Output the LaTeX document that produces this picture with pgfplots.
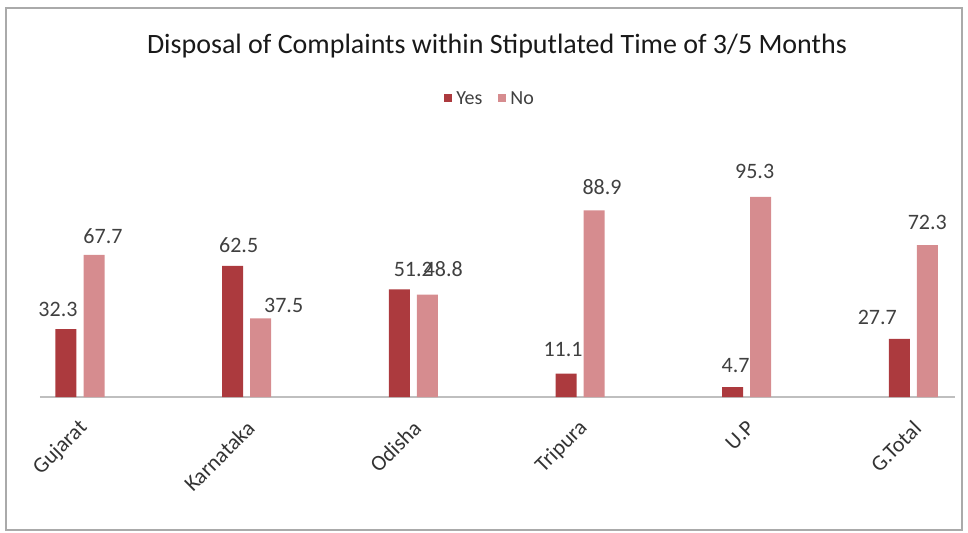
\documentclass[border=0pt]{standalone}
\usepackage{fontspec}
\setmainfont{Carlito}
\usepackage{pgfplots}
\usepackage{pgfplotstable}
\pgfplotsset{compat=1.18}
\definecolor{yescol}{RGB}{172,58,62}
\definecolor{nocol}{RGB}{214,140,143}
\definecolor{txt}{RGB}{64,64,64}
\definecolor{frame}{RGB}{170,170,170}
\pgfplotstableread{
x y dx dy
0 32.3 -4 10
1 62.5 3 10.5
2 51.2 7 10
3 11.1 -1.5 12
4 4.7 1.5 11
5 27.7 -11 10.5
}\yesdata
\pgfplotstableread{
x y dx dy
0 67.7 4.5 9.5
1 37.5 11.5 6.5
2 48.8 8 12.5
3 88.9 4 11.5
4 95.3 -3 12.5
5 72.3 0 11.5
}\nodata
\begin{document}
\begin{tikzpicture}
\path (0,0) rectangle (484pt,266pt);
\draw[frame, line width=1pt] (3pt,1pt) rectangle (481pt,262pt);
\node[font=\fontsize{14}{16}\selectfont, text=black!90] at (248.5pt,243pt) {Disposal of Complaints within Stiputlated Time of 3/5 Months};
\begin{axis}[
  at={(20pt,67.5pt)}, anchor=south west,
  scale only axis, width=457.5pt, height=115.5pt,
  ymin=0, ymax=110, xmin=-0.24, xmax=5.25,
  axis y line=none, axis x line*=bottom,
  x axis line style={draw=black!25, line width=0.8pt, -},
  xtick={0,1,2,3,4,5},
  xticklabels={Gujarat,Karnataka,Odisha,Tripura,U.P,G.Total},
  major tick length=0pt,
  xticklabel style={rotate=45, anchor=east, inner sep=0pt, font=\fontsize{11}{13}\selectfont, text=black!80, xshift=-8.2pt, yshift=-11.2pt},
  ybar=3.5pt, bar width=10.5pt,
  /pgf/number format/assume math mode=true,
  nodes near coords={\pgfmathprintnumber[fixed,precision=1,fixed zerofill]{\pgfplotspointmeta}},
  visualization depends on={\thisrow{dx} \as \dx},
  visualization depends on={\thisrow{dy} \as \dy},
  nodes near coords style={font=\fontsize{11}{13}\selectfont, text=txt, anchor=center, inner sep=0pt, xshift={\dx*1pt}, yshift={\dy*1pt}},
  legend style={at={(0.493,1.286)}, anchor=center, draw=none, fill=none, legend columns=2, font=\fontsize{10}{12}\selectfont, text=txt, /tikz/every even column/.append style={column sep=6pt}},
  legend image code/.code={\fill[#1] (0pt,-1pt) rectangle (4pt,3pt);},
]
\addplot[fill=yescol, draw=none] table[x=x, y=y] {\yesdata};
\addlegendentry{Yes}
\addplot[fill=nocol, draw=none] table[x=x, y=y] {\nodata};
\addlegendentry{No}
\end{axis}
\end{tikzpicture}
\end{document}
